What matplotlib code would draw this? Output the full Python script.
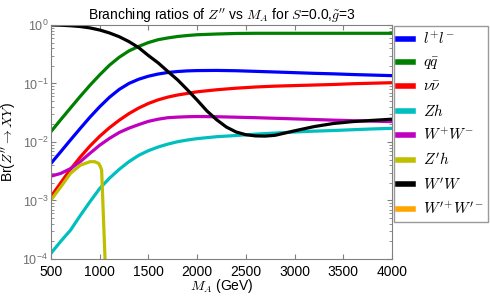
import matplotlib
matplotlib.use('Agg')
import matplotlib.pyplot as plt
import numpy as np

plt.rcParams['font.family'] = ['Liberation Sans', 'DejaVu Sans']
plt.rcParams['mathtext.fontset'] = 'cm'

# Branching ratios
mass = [500, 600, 700, 800, 900, 1000, 1100, 1200, 1300, 1400, 1500, 1600, 1700, 1800, 1900,
        2000, 2200, 2400, 2600, 2800, 3000, 3200, 3400, 3600, 3800, 4000]
br_ll = [0.0043, 0.0068, 0.0108, 0.017, 0.0265, 0.040, 0.058, 0.079, 0.100, 0.118, 0.133, 0.145, 0.154,
         0.160, 0.164, 0.166, 0.167, 0.165, 0.161, 0.157, 0.153, 0.149, 0.146, 0.142, 0.139, 0.136]
br_qq = [0.015, 0.024, 0.038, 0.060, 0.093, 0.14, 0.205, 0.28, 0.36, 0.43, 0.50, 0.56, 0.60,
         0.635, 0.66, 0.68, 0.70, 0.715, 0.72, 0.72, 0.72, 0.72, 0.72, 0.72, 0.72, 0.72]
br_nunu = [0.00116, 0.002, 0.0034, 0.0055, 0.0085, 0.0125, 0.0175, 0.0235, 0.0305, 0.038, 0.0455,
           0.0525, 0.0585, 0.0635, 0.0675, 0.072, 0.078, 0.083, 0.087, 0.090, 0.092, 0.094, 0.096,
           0.099, 0.101, 0.103]
br_zh = [0.000125, 0.0002, 0.00031, 0.00055, 0.00095, 0.0016, 0.0024, 0.0034, 0.0046, 0.0059, 0.0071,
         0.0082, 0.0092, 0.0101, 0.0108, 0.0114, 0.0123, 0.0129, 0.0136, 0.0142, 0.0148, 0.0153,
         0.0157, 0.0162, 0.0167, 0.0171]
br_ww = [0.0026, 0.0029, 0.0035, 0.0046, 0.0064, 0.0088, 0.0115, 0.0145, 0.0172, 0.0198, 0.0225,
         0.0245, 0.026, 0.0266, 0.027, 0.0272, 0.027, 0.0265, 0.026, 0.0254, 0.0248, 0.0242,
         0.0236, 0.0231, 0.0227, 0.0223]

mass_wpw = [500, 600, 700, 800, 900, 1000, 1100, 1200, 1300, 1400, 1500, 1600, 1700, 1800, 1900,
            2000, 2100, 2200, 2300, 2400, 2500, 2600, 2700, 2800, 3000, 3200, 3400, 3600, 3800, 4000]
br_wpw = [1.0, 0.99, 0.97, 0.94, 0.89, 0.82, 0.73, 0.63, 0.52, 0.41, 0.30, 0.225, 0.16, 0.115, 0.078,
          0.052, 0.034, 0.024, 0.018, 0.0148, 0.0133, 0.0127, 0.0126, 0.013, 0.0155, 0.0183,
          0.0207, 0.0223, 0.0234, 0.0245]

mass_zph = [500, 600, 700, 800, 900, 950, 990, 1010, 1020, 1028, 1037, 1055, 1065]
br_zph = [0.00102, 0.0017, 0.0029, 0.0040, 0.0046, 0.0046, 0.0043, 0.0037, 0.0033, 0.0015, 0.0006,
          0.0001, 0.00005]

mass_wpwp = []
br_wpwp = []

fig = plt.figure(figsize=(4.9, 2.97), dpi=100)
ax = fig.add_axes([0.104, 0.128, 0.696, 0.788])

lw = 2.3
ax.plot(mass, br_ll, color='b', lw=lw, label=r'$l^{+}l^{-}$')
ax.plot(mass, br_qq, color='g', lw=lw, label=r'$q\bar{q}$')
ax.plot(mass, br_nunu, color='r', lw=lw, label=r'$\nu\bar{\nu}$')
ax.plot(mass, br_zh, color='c', lw=lw, label=r'$Zh$')
ax.plot(mass, br_ww, color='m', lw=lw, label=r'$W^{+}W^{-}$')
ax.plot(mass_zph, br_zph, color='y', lw=lw, label=r"$Z'h$")
ax.plot(mass_wpw, br_wpw, color='k', lw=lw, label=r"$W'W$")
ax.plot(mass_wpwp, br_wpwp, color='orange', lw=lw, label=r"$W'^{+}W'^{-}$")

ax.set_yscale('log')
ax.set_xlim(500, 4000)
ax.set_ylim(1e-4, 1)
ax.set_xticks([500, 1000, 1500, 2000, 2500, 3000, 3500, 4000])
ax.tick_params(which='both', direction='in', top=True, right=True, colors='#808080')
ax.tick_params(axis='x', labelcolor='black', labelsize=10, pad=4)
ax.tick_params(axis='y', labelcolor='#707070', labelsize=9, pad=2)
for s in ax.spines.values():
    s.set_color('#808080')

ax.set_xlabel(r'$M_A$ (GeV)', fontsize=10, labelpad=-1)
ax.set_ylabel(r"Br($Z''\to XY$)", fontsize=10, labelpad=0)
ax.yaxis.set_label_coords(-0.1, 0.5)
ax.set_title(r"Branching ratios of $Z''$ vs $M_A$ for $S$=0.0,$\tilde{g}$=3", fontsize=10, pad=4)

leg = ax.legend(loc='upper left', bbox_to_anchor=(1.0, 1.0), borderaxespad=0.1, fontsize=11,
                handlelength=1.0, handletextpad=0.6, labelspacing=0.55, fancybox=False,
                borderpad=0.3, frameon=True)
leg.get_frame().set_edgecolor('#808080')
for h in leg.get_lines():
    h.set_linewidth(4)

fig.savefig('out.png', dpi=100)
